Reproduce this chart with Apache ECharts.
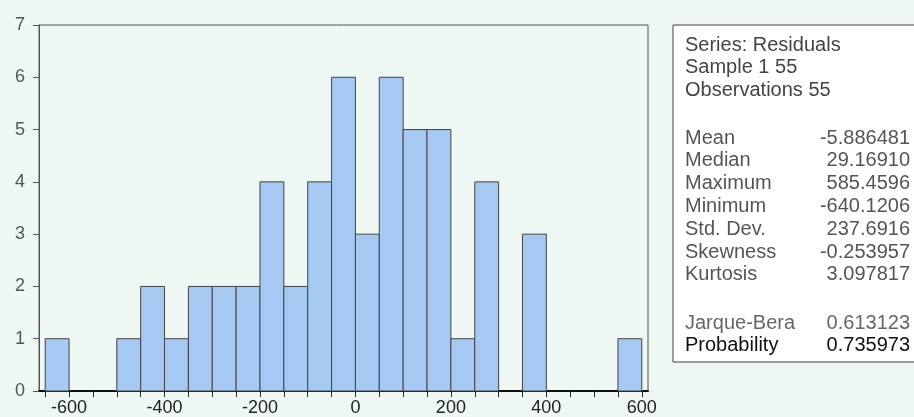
<!DOCTYPE html>
<html>
<head>
<meta charset="utf-8">
<script src="https://cdn.jsdelivr.net/npm/echarts@6/dist/echarts.min.js"></script>
<style>
  html, body { margin: 0; padding: 0; background: #eef7f1; }
  #main { width: 914px; height: 417px; }
</style>
</head>
<body>
<div id="main"></div>
<script>
// histogram bins (lower edge) and counts
const binStarts = [-650, -600, -550, -500, -450, -400, -350, -300, -250, -200, -150, -100, -50,
  0, 50, 100, 150, 200, 250, 300, 350, 400, 450, 500, 550];
const counts = [1, 0, 0, 1, 2, 1, 2, 2, 2, 4, 2, 4, 6, 3, 6, 5, 5, 1, 4, 0, 3, 0, 0, 0, 1];
const binWidth = 50;

const xTicks = [-650, -600, -550, -500, -450, -400, -350, -300, -250, -200, -150, -100, -50,
  0, 50, 100, 150, 200, 250, 300, 350, 400, 450, 500, 550, 600];
const xLabels = [-600, -400, -200, 0, 200, 400, 600];

const headLines = ['Series: Residuals', 'Sample 1 55', 'Observations 55'];
const statNames = ['Mean', 'Median', 'Maximum', 'Minimum', 'Std. Dev.', 'Skewness', 'Kurtosis'];
const statValues = ['-5.886481', '29.16910', '585.4596', '-640.1206', '237.6916', '-0.253957', '3.097817'];
const testNames = ['Jarque-Bera', 'Probability'];
const testValues = ['0.613123', '0.735973'];

const font = '"Liberation Sans", Arial, sans-serif';
const myChart = echarts.init(document.getElementById('main'));

const barData = binStarts.map((s, i) => [s, s + binWidth, counts[i]]);

// stats box on the right
const graphics = [];
graphics.push({
  type: 'rect', x: 673, y: 25, silent: true,
  shape: { width: 260, height: 337 },
  style: { fill: '#fff', stroke: '#444', lineWidth: 1 }
});
function txt(str, x, y, color, align) {
  graphics.push({ type: 'text', x: x, y: y, silent: true,
    style: { text: str, font: '20px ' + font, fill: color, align: align || 'left', verticalAlign: 'middle' } });
}
headLines.forEach((t, i) => txt(t, 685, 45 + i * 22.6, '#444'));
statNames.forEach((t, i) => {
  txt(t, 685, 138 + i * 22.8, '#555');
  txt(statValues[i], 910, 138 + i * 22.8, '#555', 'right');
});
testNames.forEach((t, i) => {
  const c = i === 1 ? '#111' : '#666';
  txt(t, 685, 323 + i * 22.7, c);
  txt(testValues[i], 910, 323 + i * 22.7, c, 'right');
});

const option = {
  backgroundColor: '#eef7f1',
  animation: false,
  grid: {
    left: 39, right: 266, top: 25, bottom: 26,
    show: true, borderColor: '#555', borderWidth: 1, backgroundColor: 'transparent'
  },
  xAxis: {
    type: 'value',
    min: -663,
    max: 613,
    axisLine: { onZero: false, lineStyle: { color: '#111', width: 2 } },
    axisTick: { show: true, customValues: xTicks, length: 6, lineStyle: { color: '#222' } },
    axisLabel: { customValues: xLabels, color: '#222', fontSize: 18, fontFamily: font, margin: 8 },
    splitLine: { show: false }
  },
  yAxis: {
    type: 'value',
    min: 0,
    max: 7,
    interval: 1,
    axisLine: { show: true, onZero: false, lineStyle: { color: '#555' } },
    axisTick: { show: true, length: 6, lineStyle: { color: '#555' } },
    axisLabel: { color: '#555', fontSize: 18, fontFamily: font, margin: 14 },
    splitLine: { show: false }
  },
  series: [{
    type: 'custom',
    data: barData,
    encode: { x: [0, 1], y: 2 },
    renderItem: function (params, api) {
      const n = api.value(2);
      if (!n) return;
      const p0 = api.coord([api.value(0), 0]);
      const p1 = api.coord([api.value(1), n]);
      return {
        type: 'rect',
        shape: { x: p0[0], y: p1[1], width: p1[0] - p0[0], height: p0[1] - p1[1] },
        style: { fill: '#a6c9f3', stroke: '#444', lineWidth: 1 }
      };
    }
  }],
  graphic: graphics
};

myChart.setOption(option);
</script>
</body>
</html>
